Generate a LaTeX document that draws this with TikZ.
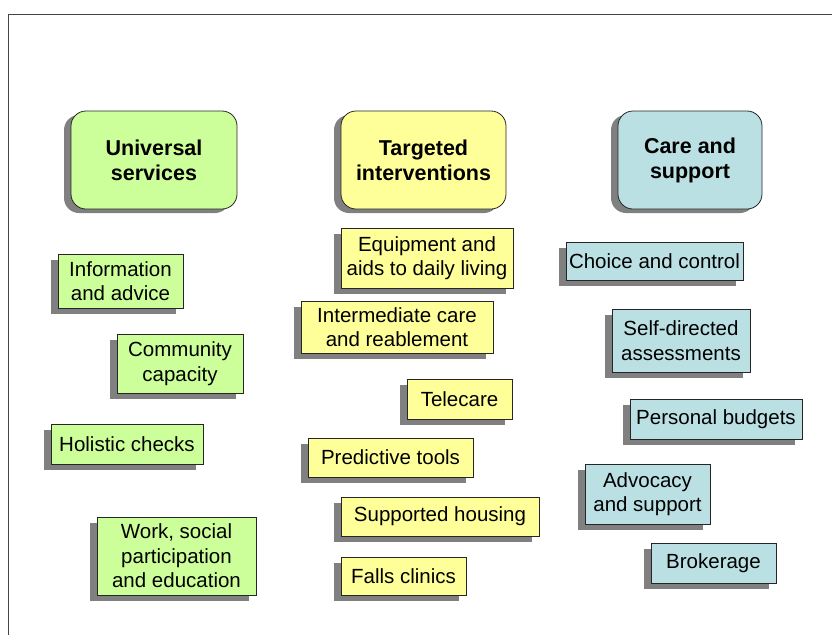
\documentclass[tikz,border=0pt]{standalone}
\usepackage{fontspec}
\setmainfont{Liberation Sans}
\usetikzlibrary{shadows}
\definecolor{cgreen}{RGB}{204,255,153}
\definecolor{cyellow}{RGB}{255,255,153}
\definecolor{cblue}{RGB}{187,224,227}
\definecolor{cshadow}{RGB}{128,128,128}
\definecolor{cframe}{RGB}{70,70,70}
\tikzset{
  headbox/.style={draw=black!85, line width=0.8pt, rounded corners=15pt, inner sep=0pt,
    align=center, font=\fontsize{21.5}{25}\selectfont\bfseries,
    drop shadow={shadow xshift=-7pt, shadow yshift=-4pt, fill=cshadow, opacity=1}},
  itembox/.style={draw=black!85, line width=0.8pt, inner sep=0pt,
    align=center, font=\fontsize{20.5}{24.5}\selectfont,
    drop shadow={shadow xshift=-7pt, shadow yshift=-6pt, fill=cshadow, opacity=1}},
  framel/.style={draw=cframe, line width=1.4pt}
}
\begin{document}
\begin{tikzpicture}[x=1pt,y=-1pt]
\useasboundingbox (0,0) rectangle (832,635);
\coordinate (ftl) at (8.5,14.5);
\coordinate (ftr) at (832,14.5);
\coordinate (fbl) at (8.5,635);
\draw[framel] (ftr) -- (ftl) -- (fbl);

% headers
\node[headbox, fill=cgreen, minimum width=166pt, minimum height=98pt] (hU) at (154,160) {Universal\\services};
\node[headbox, fill=cyellow, minimum width=165pt, minimum height=98pt] (hT) at (423.5,160) {Targeted\\interventions};
\node[headbox, fill=cblue, minimum width=144pt, minimum height=98pt] (hC) at (690,160) {Care and\\support};

% universal services
\node[itembox, fill=cgreen, minimum width=125pt, minimum height=54pt] (info) at (120.5,281) {Information\\and advice};
\node[itembox, fill=cgreen, minimum width=126pt, minimum height=59pt] (comm) at (180,363.5) {Community\\capacity};
\node[itembox, fill=cgreen, minimum width=152pt, minimum height=40pt] (hol) at (127,444) {Holistic checks};
\node[itembox, fill=cgreen, minimum width=159pt, minimum height=78pt] (work) at (176.5,556) {Work, social\\participation\\and education};

% targeted interventions
\node[itembox, fill=cyellow, minimum width=172pt, minimum height=60pt] (equip) at (427,258) {Equipment and\\aids to daily living};
\node[itembox, fill=cyellow, minimum width=192pt, minimum height=52pt] (inter) at (397,327) {Intermediate care\\and reablement};
\node[itembox, fill=cyellow, minimum width=105pt, minimum height=40pt] (tele) at (459.5,399) {Telecare};
\node[itembox, fill=cyellow, minimum width=165pt, minimum height=39pt] (pred) at (390.5,457.5) {Predictive tools};
\node[itembox, fill=cyellow, minimum width=198pt, minimum height=39pt] (supp) at (440,516.5) {Supported housing};
\node[itembox, fill=cyellow, minimum width=125pt, minimum height=38pt] (falls) at (403.5,576) {Falls clinics};

% care and support
\node[itembox, fill=cblue, minimum width=177pt, minimum height=38pt] (choice) at (654.5,261) {Choice and control};
\node[itembox, fill=cblue, minimum width=138pt, minimum height=63pt] (self) at (681,340.5) {Self-directed\\assessments};
\node[itembox, fill=cblue, minimum width=172pt, minimum height=40pt] (pers) at (716,419) {Personal budgets};
\node[itembox, fill=cblue, minimum width=125pt, minimum height=60pt] (advo) at (647.5,494) {Advocacy\\and support};
\node[itembox, fill=cblue, minimum width=125pt, minimum height=40pt] (brok) at (713.5,563) {Brokerage};
\end{tikzpicture}
\end{document}
